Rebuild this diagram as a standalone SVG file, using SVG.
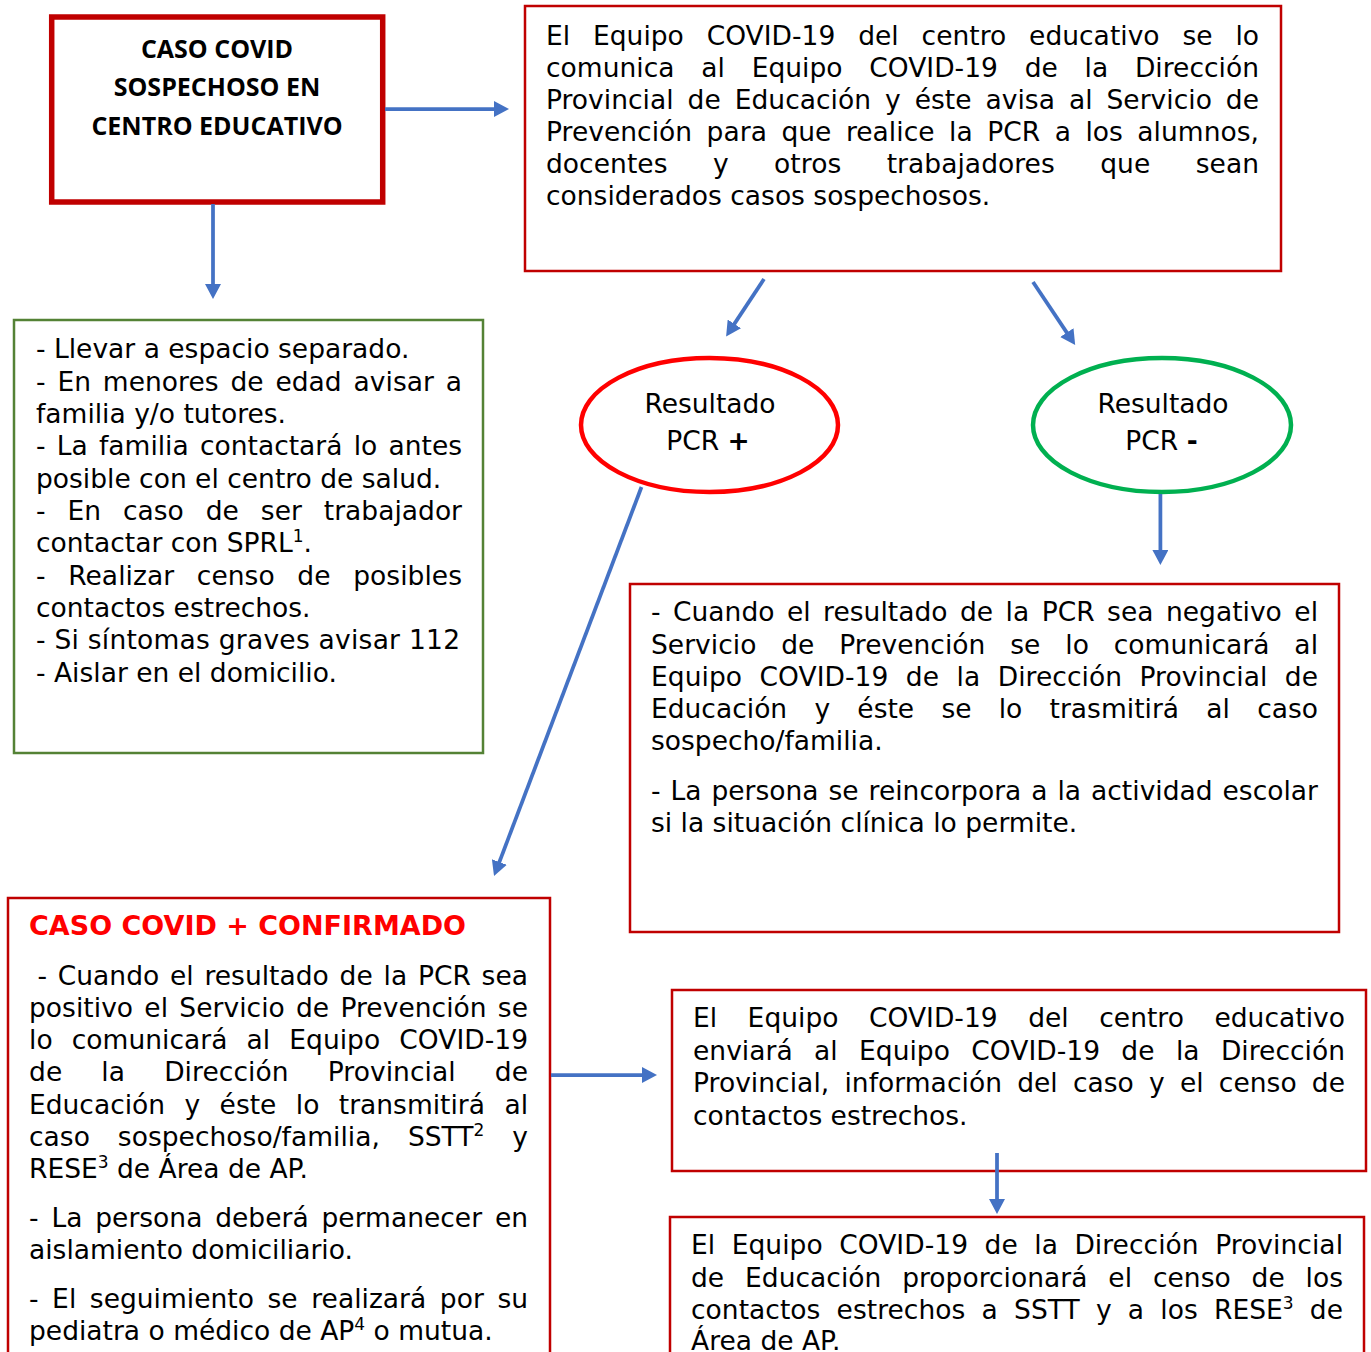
<svg xmlns="http://www.w3.org/2000/svg" width="1371" height="1352" viewBox="0 0 1371 1352">
<style>
.bg{fill:#ffffff}
.box{fill:#ffffff;stroke:#C00000;stroke-width:2.5}
.boxg{fill:#ffffff;stroke:#548235;stroke-width:2.5}
.t{font-family:"DejaVu Sans",Verdana,sans-serif;font-size:26.5px;fill:#000000}
.ttl{font-family:"Open Sans","DejaVu Sans",sans-serif;font-size:25px;font-weight:700;fill:#000000}
.red{fill:#FF0000;font-weight:bold}
.b{font-weight:bold}
.sup{font-size:17px}
.conn{fill:none;stroke:#4472C4;stroke-width:3.75;marker-end:url(#ah)}
</style>
<defs>
<marker id="ah" markerUnits="userSpaceOnUse" markerWidth="16" markerHeight="16" viewBox="0 0 16 16" refX="3" refY="8" orient="auto">
<path d="M0,0 L15,8 L0,16 z" fill="#4472C4"/>
</marker>
</defs>
<rect class="bg" x="0" y="0" width="1371" height="1352"/>

<g id="node-sospechoso">
<rect x="51.7" y="17" width="331" height="185" fill="#ffffff" stroke="#C00000" stroke-width="5.5"/>
<text class="ttl" x="217" y="58" text-anchor="middle">CASO COVID</text>
<text class="ttl" x="217" y="96" text-anchor="middle">SOSPECHOSO EN</text>
<text class="ttl" x="217" y="135" text-anchor="middle">CENTRO EDUCATIVO</text>
</g>

<g id="node-comunica">
<rect class="box" x="525" y="6" width="756" height="265"/>
<text class="t" x="546" y="45" word-spacing="14.4" textLength="713" lengthAdjust="spacing">El Equipo COVID-19 del centro educativo se lo</text>
<text class="t" x="546" y="77" word-spacing="18.3" textLength="713" lengthAdjust="spacing">comunica al Equipo COVID-19 de la Dirección</text>
<text class="t" x="546" y="109" word-spacing="5.5" textLength="713" lengthAdjust="spacing">Provincial de Educación y éste avisa al Servicio de</text>
<text class="t" x="546" y="141" word-spacing="6" textLength="713" lengthAdjust="spacing">Prevención para que realice la PCR a los alumnos,</text>
<text class="t" x="546" y="173" word-spacing="37" textLength="713" lengthAdjust="spacing">docentes y otros trabajadores que sean</text>
<text class="t" x="546" y="205">considerados casos sospechosos.</text>
</g>

<g id="node-acciones">
<rect class="boxg" x="14" y="320" width="469" height="433"/>
<text class="t" x="36" y="358">- Llevar a espacio separado.</text>
<text class="t" x="36" y="390.5" word-spacing="3.4" textLength="426" lengthAdjust="spacing">- En menores de edad avisar a</text>
<text class="t" x="36" y="423">familia y/o tutores.</text>
<text class="t" x="36" y="455" word-spacing="2.8" textLength="426" lengthAdjust="spacing">- La familia contactará lo antes</text>
<text class="t" x="36" y="487.5">posible con el centro de salud.</text>
<text class="t" x="36" y="520" word-spacing="13.5" textLength="426" lengthAdjust="spacing">- En caso de ser trabajador</text>
<text class="t" x="36" y="552">contactar con SPRL<tspan class="sup" dy="-10">1</tspan><tspan dy="10">.</tspan></text>
<text class="t" x="36" y="584.5" word-spacing="14.2" textLength="426" lengthAdjust="spacing">- Realizar censo de posibles</text>
<text class="t" x="36" y="617">contactos estrechos.</text>
<text class="t" x="36" y="649" textLength="424" lengthAdjust="spacing">- Si síntomas graves avisar 112</text>
<text class="t" x="36" y="681.5">- Aislar en el domicilio.</text>
</g>

<g id="node-pcr-positivo">
<ellipse cx="709.5" cy="425" rx="128.5" ry="67" fill="#ffffff" stroke="#FF0000" stroke-width="4.5"/>
<text class="t" x="710" y="413" text-anchor="middle">Resultado</text>
<text class="t" x="708" y="450" text-anchor="middle">PCR <tspan class="b">+</tspan></text>
</g>

<g id="node-pcr-negativo">
<ellipse cx="1162" cy="425" rx="129" ry="67" fill="#ffffff" stroke="#00B050" stroke-width="4.5"/>
<text class="t" x="1163" y="413" text-anchor="middle">Resultado</text>
<text class="t" x="1161.5" y="450" text-anchor="middle">PCR <tspan class="b">-</tspan></text>
</g>

<g id="node-negativo">
<rect class="box" x="630" y="584" width="709" height="348"/>
<text class="t" x="651" y="621" word-spacing="4" textLength="667" lengthAdjust="spacing">- Cuando el resultado de la PCR sea negativo el</text>
<text class="t" x="651" y="653.5" word-spacing="16.4" textLength="667" lengthAdjust="spacing">Servicio de Prevención se lo comunicará al</text>
<text class="t" x="651" y="686" word-spacing="9" textLength="667" lengthAdjust="spacing">Equipo COVID-19 de la Dirección Provincial de</text>
<text class="t" x="651" y="718" word-spacing="18.8" textLength="667" lengthAdjust="spacing">Educación y éste se lo trasmitirá al caso</text>
<text class="t" x="651" y="750">sospecho/familia.</text>
<text class="t" x="651" y="799.5" word-spacing="1.5" textLength="667" lengthAdjust="spacing">- La persona se reincorpora a la actividad escolar</text>
<text class="t" x="651" y="832">si la situación clínica lo permite.</text>
</g>

<g id="node-confirmado">
<rect class="box" x="8" y="898" width="542" height="480"/>
<text class="t red" x="29" y="935" textLength="437" lengthAdjust="spacingAndGlyphs">CASO COVID + CONFIRMADO</text>
<text class="t" x="37.4" y="984.5" word-spacing="2.3" textLength="490.6" lengthAdjust="spacing">- Cuando el resultado de la PCR sea</text>
<text class="t" x="29" y="1016.5" word-spacing="2.8" textLength="499" lengthAdjust="spacing">positivo el Servicio de Prevención se</text>
<text class="t" x="29" y="1049" word-spacing="10.7" textLength="499" lengthAdjust="spacing">lo comunicará al Equipo COVID-19</text>
<text class="t" x="29" y="1081" word-spacing="30.6" textLength="499" lengthAdjust="spacing">de la Dirección Provincial de</text>
<text class="t" x="29" y="1113.5" word-spacing="11" textLength="499" lengthAdjust="spacing">Educación y éste lo transmitirá al</text>
<text class="t" x="29" y="1146" word-spacing="19.5" textLength="499" lengthAdjust="spacing">caso sospechoso/familia, SSTT<tspan class="sup" dy="-10">2</tspan><tspan dy="10"> y</tspan></text>
<text class="t" x="29" y="1178">RESE<tspan class="sup" dy="-10">3</tspan><tspan dy="10"> de Área de AP.</tspan></text>
<text class="t" x="29" y="1226.5" word-spacing="4.4" textLength="499" lengthAdjust="spacing">- La persona deberá permanecer en</text>
<text class="t" x="29" y="1259">aislamiento domiciliario.</text>
<text class="t" x="29" y="1307.5" word-spacing="5.1" textLength="499" lengthAdjust="spacing">- El seguimiento se realizará por su</text>
<text class="t" x="29" y="1340">pediatra o médico de AP<tspan class="sup" dy="-10">4</tspan><tspan dy="10"> o mutua.</tspan></text>
</g>

<g id="node-envia">
<rect class="box" x="672" y="990" width="694" height="181"/>
<text class="t" x="693" y="1027" word-spacing="22" textLength="652" lengthAdjust="spacing">El Equipo COVID-19 del centro educativo</text>
<text class="t" x="693" y="1059.5" word-spacing="12.9" textLength="652" lengthAdjust="spacing">enviará al Equipo COVID-19 de la Dirección</text>
<text class="t" x="693" y="1092" word-spacing="6.7" textLength="652" lengthAdjust="spacing">Provincial, información del caso y el censo de</text>
<text class="t" x="693" y="1124.5">contactos estrechos.</text>
</g>

<g id="node-proporciona">
<rect class="box" x="670" y="1217" width="694" height="160"/>
<text class="t" x="691" y="1254" word-spacing="8" textLength="652" lengthAdjust="spacing">El Equipo COVID-19 de la Dirección Provincial</text>
<text class="t" x="691" y="1286.5" word-spacing="12.4" textLength="652" lengthAdjust="spacing">de Educación proporcionará el censo de los</text>
<text class="t" x="691" y="1319" word-spacing="7.75" textLength="652" lengthAdjust="spacing">contactos estrechos a SSTT y a los RESE<tspan class="sup" dy="-10">3</tspan><tspan dy="10"> de</tspan></text>
<text class="t" x="691" y="1350">Área de AP.</text>
</g>

<g id="connectors">
<line class="conn" x1="385" y1="109" x2="497" y2="109"/>
<line class="conn" x1="213" y1="204" x2="213" y2="287"/>
<line class="conn" x1="764" y1="279" x2="732.7" y2="326.4"/>
<line class="conn" x1="1033" y1="282" x2="1068.5" y2="335.1"/>
<line class="conn" x1="641.5" y1="487" x2="498.3" y2="864.8"/>
<line class="conn" x1="1160.4" y1="494" x2="1160.4" y2="553"/>
<line class="conn" x1="551" y1="1075" x2="645" y2="1075"/>
<line class="conn" x1="997" y1="1153" x2="997" y2="1202"/>
</g>
</svg>
